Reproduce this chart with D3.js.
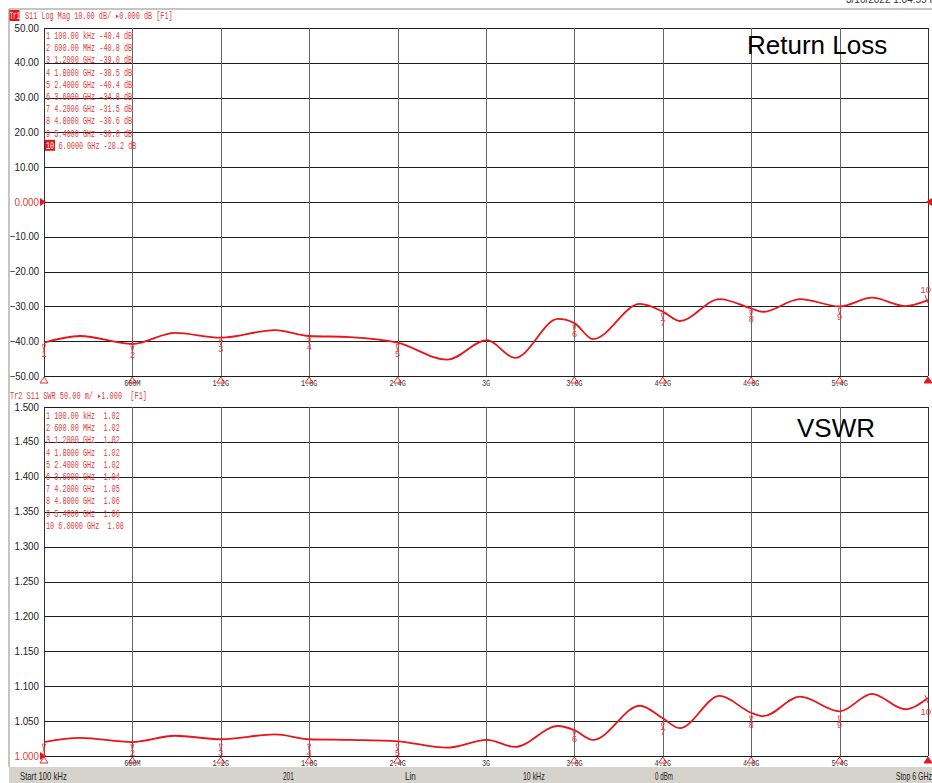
<!DOCTYPE html>
<html>
<head>
<meta charset="utf-8">
<script src="https://cdn.jsdelivr.net/npm/d3@7"></script>
<style>
  body { margin: 0; background: #fff; }
  svg text { white-space: pre; }
</style>
</head>
<body>
<svg id="canvas" width="932" height="783"></svg>
<script>
// trace samples (GHz)
let freqs = [0.0001, 0.244, 0.6, 0.889, 1.2, 1.568, 1.8, 2.077, 2.4, 2.735, 3.007, 3.197, 3.489, 3.6, 3.726, 4.045, 4.2, 4.315, 4.586, 4.8, 4.88, 5.131, 5.4, 5.62, 5.844, 6.0]
let returnLoss = [-40.4, -38.5, -40.8, -37.6, -39.0, -36.8, -38.5, -38.8, -40.4, -45.3, -39.7, -44.8, -33.6, -34.8, -39.4, -29.3, -31.5, -34.2, -27.9, -30.6, -31.6, -27.9, -30.0, -27.5, -29.9, -28.2]
let vswr = [1.020, 1.026, 1.020, 1.029, 1.024, 1.031, 1.024, 1.023, 1.021, 1.012, 1.023, 1.013, 1.043, 1.037, 1.023, 1.072, 1.054, 1.040, 1.086, 1.062, 1.057, 1.085, 1.064, 1.089, 1.067, 1.083]

// markers
let markerFreqs = [0.0001, 0.6, 1.2, 1.8, 2.4, 3.6, 4.2, 4.8, 5.4, 6.0]
let markerFreqText = ['100.00 kHz', '600.00 MHz', '1.2000 GHz', '1.8000 GHz', '2.4000 GHz', '3.6000 GHz', '4.2000 GHz', '4.8000 GHz', '5.4000 GHz', '6.0000 GHz']
let markerRL = [-40.4, -40.8, -39.0, -38.5, -40.4, -34.8, -31.5, -30.6, -30.0, -28.2]
let markerVSWR = [1.02, 1.02, 1.02, 1.02, 1.02, 1.04, 1.05, 1.06, 1.06, 1.08]

let xTickLabels = ['', '600M', '1.2G', '1.8G', '2.4G', '3G', '3.6G', '4.2G', '4.8G', '5.4G', '']
let rlTicks = [50, 40, 30, 20, 10, 0, -10, -20, -30, -40, -50]
let vswrTicks = [1.5, 1.45, 1.4, 1.35, 1.3, 1.25, 1.2, 1.15, 1.1, 1.05, 1.0]
let statusText = [['Start 100 kHz', 20], ['201', 283], ['Lin', 405], ['10 kHz', 523], ['0 dBm', 655], ['Stop 6 GHz', 896]]

let red = '#e8141b'
let textRed = '#e03a3a'
let mono = "'Liberation Mono', 'DejaVu Sans Mono', monospace"
let sans = "'Liberation Sans', Arial, sans-serif"

let canvas = d3.select('#canvas')

let x = d3.scaleLinear().domain([0.0001, 6]).range([44, 928])

// squeezed text, like the analyser's narrow font
let narrow = (g, str, px, py, perChar, size, color, anchor) => {
  return g.append('text')
    .attr('x', px).attr('y', py)
    .attr('font-family', mono)
    .attr('font-size', size)
    .attr('fill', color)
    .attr('text-anchor', anchor || 'start')
    .attr('textLength', str.length * perChar)
    .attr('lengthAdjust', 'spacingAndGlyphs')
    .text(str)
}

// outer frame
canvas.append('line').attr('x1', 9).attr('x2', 932).attr('y1', 9).attr('y2', 9).attr('stroke', '#8a8a8a')
canvas.append('line').attr('x1', 9).attr('x2', 9).attr('y1', 9).attr('y2', 767).attr('stroke', '#8a8a8a')
canvas.append('text').attr('x', 846).attr('y', 3).attr('font-family', sans).attr('font-size', 10)
  .attr('fill', '#333').text('3/10/2022 1:04:55 PM')

let drawPanel = (opt) => {
  let g = canvas.append('g')
  let y = d3.scaleLinear().domain(opt.domain).range([opt.bottom, opt.top])

  // horizontal grid
  g.selectAll('line.h').data(opt.ticks).enter().append('line')
    .attr('x1', x.range()[0]).attr('x2', x.range()[1])
    .attr('y1', d => Math.round(y(d)) + 0.5).attr('y2', d => Math.round(y(d)) + 0.5)
    .attr('stroke', '#1e1e1e').attr('stroke-width', 1.2)

  // vertical grid, 10 divisions
  let divs = d3.range(11).map(i => 0.0001 + i * (6 - 0.0001) / 10)
  g.selectAll('line.v').data(divs).enter().append('line')
    .attr('x1', d => Math.round(x(d)) + 0.5).attr('x2', d => Math.round(x(d)) + 0.5)
    .attr('y1', opt.top).attr('y2', opt.bottom)
    .attr('stroke', (d, i) => (i === 0 || i === 10) ? '#333' : '#666')

  // y labels
  opt.ticks.forEach(t => {
    g.append('text')
      .attr('x', 39).attr('y', y(t) + 3.5)
      .attr('text-anchor', 'end')
      .attr('font-family', sans).attr('font-size', 10.5)
      .attr('textLength', opt.fmt(t).length * 4.9)
      .attr('lengthAdjust', 'spacingAndGlyphs')
      .attr('fill', t === opt.ref ? textRed : '#222')
      .text(opt.fmt(t))
  })
  // reference arrow
  let ry = y(opt.ref)
  g.append('path').attr('d', `M40,${ry - 4}L46,${ry}L40,${ry + 4}Z`).attr('fill', red)
  if (opt.rightRef) {
    g.append('path').attr('d', `M932,${ry - 4}L926,${ry}L932,${ry + 4}Z`).attr('fill', red)
  }

  // x tick labels
  divs.forEach((d, i) => {
    if (!xTickLabels[i]) return
    narrow(g, xTickLabels[i], x(d), opt.bottom + 9.5, 4.1, 9.5, '#333', 'middle')
  })

  // marker indicators on the x axis
  markerFreqs.forEach((f, i) => {
    let mx = x(f)
    let last = i === markerFreqs.length - 1
    g.append('path')
      .attr('d', `M${mx},${opt.bottom + 1}L${mx + 4},${opt.bottom + 7}L${mx - 4},${opt.bottom + 7}Z`)
      .attr('fill', last ? red : 'none')
      .attr('stroke', red).attr('stroke-width', 0.9)
  })

  // trace
  let line = d3.line()
    .x((d, i) => x(freqs[i]))
    .y(d => y(d))
    .curve(d3.curveMonotoneX)
  g.append('path').datum(opt.values)
    .attr('d', line)
    .attr('fill', 'none').attr('stroke', red).attr('stroke-width', 1.8)

  // markers on the trace
  opt.markers.forEach((v, i) => {
    let mx = x(markerFreqs[i])
    let my = y(v)
    if (i === opt.markers.length - 1) {
      let ty = opt.lastBelow ? my + 15 : my - 7
      g.append('text').attr('x', mx + 3).attr('y', ty).attr('text-anchor', 'end')
        .attr('font-family', sans).attr('font-size', 9.5).attr('fill', textRed).text('10')
      g.append('path').attr('d', `M${mx - 3},${my - 5}L${mx},${my + 3}`).attr('stroke', textRed).attr('fill', 'none')
      return
    }
    g.append('path')
      .attr('d', `M${mx - 1.5},${my + 2}L${mx + 1.5},${my + 2}L${mx},${my + 8}Z`)
      .attr('fill', 'none').attr('stroke', textRed).attr('stroke-width', 0.8)
    g.append('text').attr('x', mx).attr('y', my + 14).attr('text-anchor', 'middle')
      .attr('font-family', sans).attr('font-size', 9).attr('fill', textRed).text(i + 1)
  })

  // marker readout list
  opt.markers.forEach((v, i) => {
    let by = opt.listTop + i * 12.2
    let str = opt.readout(i, v)
    if (opt.activeBox && i === opt.markers.length - 1) {
      g.append('rect').attr('x', 45).attr('y', by - 9).attr('width', 10).attr('height', 11).attr('fill', red)
      narrow(g, '10', 46, by, 4.1, 10.5, '#fff')
      narrow(g, str.slice(3), 58.5, by, 4.1, 10.5, textRed)
    } else {
      narrow(g, str, 46, by, 4.1, 10.5, textRed)
    }
  })

  // panel title
  g.append('text').attr('x', opt.titleX).attr('y', opt.titleY)
    .attr('font-family', sans).attr('font-size', 26).attr('fill', '#000').text(opt.title)
}

// header lines
canvas.append('rect').attr('x', 9.5).attr('y', 10).attr('width', 10).attr('height', 11).attr('fill', red)
narrow(canvas, 'Tr1', 10, 19, 3.2, 10, '#fff')
narrow(canvas, 'S11 Log Mag 10.00 dB/ \u25B80.000 dB [F1]', 25, 19, 4.1, 10.5, textRed)
narrow(canvas, 'Tr2 S11 SWR 50.00 m/ \u25B81.000  [F1]', 10, 399, 4.15, 10.5, textRed)

drawPanel({
  domain: [-50, 50], top: 28, bottom: 376, ticks: rlTicks, ref: 0, rightRef: true,
  fmt: d => d === 0 ? '0.000' : d3.format('.2f')(d),
  values: returnLoss, markers: markerRL, listTop: 39, activeBox: true, lastBelow: false,
  readout: (i, v) => `${i + 1} ${markerFreqText[i]} ${v.toFixed(1)} dB`,
  title: 'Return Loss', titleX: 747, titleY: 54
})

drawPanel({
  domain: [1.0, 1.5], top: 407, bottom: 756, ticks: vswrTicks, ref: 1.0, rightRef: false,
  fmt: d => d3.format('.3f')(d),
  values: vswr, markers: markerVSWR, listTop: 419, activeBox: false, lastBelow: true,
  readout: (i, v) => `${i + 1} ${markerFreqText[i]}  ${v.toFixed(2)}`,
  title: 'VSWR', titleX: 797, titleY: 437
})

// status bar
canvas.append('rect').attr('x', 9).attr('y', 767).attr('width', 923).attr('height', 16).attr('fill', '#d6d3cc')
statusText.forEach(s => {
  canvas.append('text').attr('x', s[1]).attr('y', 780)
    .attr('font-family', sans).attr('font-size', 10.5).attr('fill', '#222')
    .attr('textLength', s[0].length * 3.6).attr('lengthAdjust', 'spacingAndGlyphs')
    .text(s[0])
})
</script>
</body>
</html>
